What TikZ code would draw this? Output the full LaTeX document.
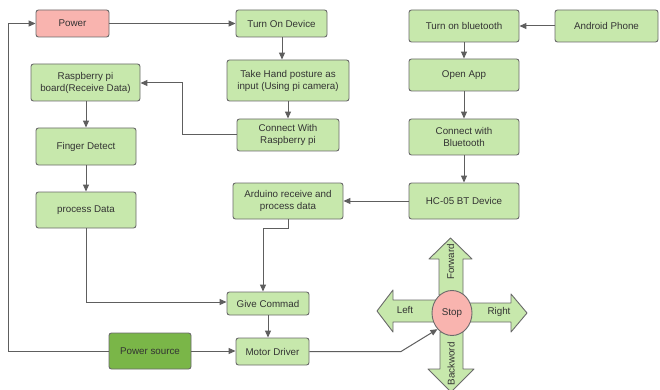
\documentclass[tikz,border=0pt]{standalone}
\usepackage{fontspec}
\setmainfont{Liberation Sans}
\usetikzlibrary{arrows.meta,shapes.geometric}
\definecolor{lgreen}{HTML}{C7E8AC}
\definecolor{dgreen}{HTML}{7AB648}
\definecolor{lred}{HTML}{F9B4AF}
\definecolor{edge}{HTML}{6A6A6A}
\definecolor{txt}{HTML}{333333}
\definecolor{conn}{HTML}{5E5E5E}
\tikzset{
  box/.style={draw=edge, line width=0.9pt, fill=lgreen, rounded corners=2.5pt,
    inner sep=0pt, align=center, text=txt, font=\fontsize{9.8}{12}\selectfont},
  redbox/.style={box, fill=lred},
  darkbox/.style={box, fill=dgreen},
  conn/.style={draw=conn, line width=1pt, -{Triangle[length=7pt,width=6pt]}},
  plainline/.style={draw=conn, line width=1pt},
  barrow/.style={draw=edge, line width=0.9pt, fill=lgreen, line join=round},
  lbl/.style={text=txt, font=\fontsize{9.8}{12}\selectfont, inner sep=0pt},
}
\newcommand{\bx}[7]{% style, name, x1, y1, x2, y2, text
  \node[#1, minimum width={(#5-#3)*1pt}, minimum height={(#6-#4)*1pt}]
    (#2) at ({(#3+#5)/2},{(#4+#6)/2}) {#7};}
\begin{document}
\begin{tikzpicture}[x=1pt,y=-1pt]
\useasboundingbox[fill=white] (0,0) rectangle (660,390);
% boxes
\bx{redbox}{power}{36}{10}{109}{37}{Power}
\bx{box}{turnon}{236}{10}{327}{37}{Turn On Device}
\bx{box}{take}{227}{60}{349}{101}{Take Hand posture as\\input (Using pi camera)}
\bx{box}{crpi}{237}{119}{339}{151}{Connect With\\Raspberry pi}
\bx{box}{rpi}{31}{64}{140}{101}{Raspberry pi\\board(Receive Data)}
\bx{box}{finger}{36}{128}{136}{165}{Finger Detect}
\bx{box}{proc}{36}{192}{136}{228}{process Data}
\bx{box}{ard}{233}{183}{343}{219}{Arduino receive and\\process data}
\bx{box}{give}{227}{292}{309}{315}{Give Commad}
\bx{darkbox}{psrc}{109}{333}{191}{369}{Power source}
\bx{box}{motor}{236}{338}{309}{365}{Motor Driver}
\bx{box}{bt}{409}{10}{519}{42}{Turn on bluetooth}
\bx{box}{android}{555}{10}{658}{42}{Android Phone}
\bx{box}{app}{409}{59}{519}{91}{Open App}
\bx{box}{cbt}{409}{119}{519}{155}{Connect with\\Bluetooth}
\bx{box}{hc}{409}{183}{519}{219}{HC-05 BT Device}
% block arrows
\draw[barrow] (436,300) -- (393,300) -- (393,290) -- (377,311) -- (393,332) -- (393,322) -- (436,322) -- cycle;
\draw[barrow] (468,303) -- (511,303) -- (511,294) -- (527,313) -- (511,332) -- (511,322) -- (468,322) -- cycle;
\draw[barrow] (439,295) -- (439,259) -- (429,259) -- (450.5,238) -- (472,259) -- (463,259) -- (463,295) -- cycle;
\draw[barrow] (440,332) -- (440,369) -- (428,369) -- (451,392) -- (474,369) -- (463,369) -- (463,332) -- cycle;
\node[ellipse, draw=edge, line width=0.9pt, fill=lred, minimum width=40pt, minimum height=45pt, inner sep=0pt, text=txt, font=\fontsize{9.8}{12}\selectfont] (stop) at (452,313) {Stop};
\node[lbl] (left) at (405,310) {Left};
\node[lbl] (right) at (499,312) {Right};
\node[lbl, rotate=90] (fwd) at (450.5,262) {Forward};
\node[lbl, rotate=90] (bwd) at (451,364) {Backword};
% connectors
\draw[conn] (power.east) -- (turnon.west);
\draw[conn] (turnon.south -| 282,0) -- (282,0 |- take.north);
\draw[conn] (take.south) -- (crpi.north);
\draw[conn] (crpi.west) -- (182,0 |- crpi.west) -- (182,83) -- (rpi.east |- 0,83);
\draw[conn] (rpi.south -| 86,0) -- (86,0 |- finger.north);
\draw[conn] (finger.south) -- (proc.north);
\draw[conn] (proc.south) -- (86,302) -- (give.west |- 0,302);
\draw[conn] (ard.south) -- (288,228) -- (263,228) -- (263,0 |- give.north);
\draw[conn] (give.south) -- (give.south |- motor.north);
\draw[conn] (psrc.east) -- (motor.west |- psrc.east);
\draw[conn] (psrc.west) -- (8,0 |- psrc.west) -- (8,0 |- power.west) -- (power.west);
\draw[conn] (motor.east) -- (401,0 |- motor.east) -- (stop.-132);
\draw[conn] (android.west) -- (bt.east);
\draw[conn] (bt.south) -- (app.north);
\draw[conn] (app.south) -- (cbt.north);
\draw[conn] (cbt.south) -- (hc.north);
\draw[conn] (hc.west) -- (ard.east |- hc.west);
\end{tikzpicture}
\end{document}
